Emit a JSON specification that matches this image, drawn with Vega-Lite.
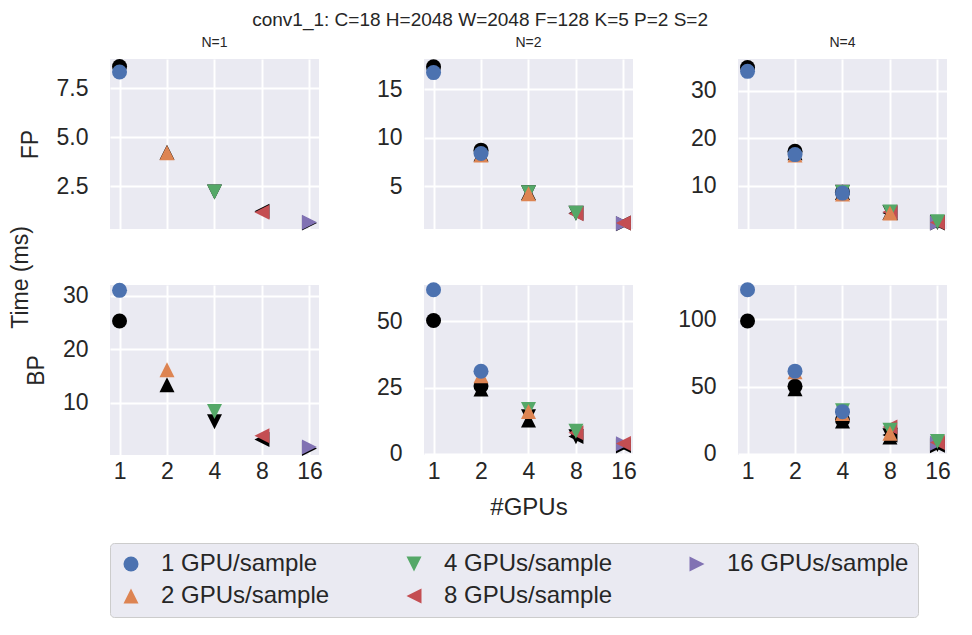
{
  "$schema": "https://vega.github.io/schema/vega-lite/v6.json",
  "padding": {"left": 10, "right": 10, "top": 10, "bottom": 5},
  "title": {"text": "conv1_1: C=18 H=2048 W=2048 F=128 K=5 P=2 S=2", "fontSize": 19, "anchor": "middle", "offset": 6},
  "data": {"values": [
    {"pass":"FP","N":1,"gpus":16,"cfg":"16 GPUs/sample","measured":0.66,"predicted":0.62},
    {"pass":"FP","N":1,"gpus":8,"cfg":"8 GPUs/sample","measured":1.17,"predicted":1.22},
    {"pass":"FP","N":1,"gpus":4,"cfg":"4 GPUs/sample","measured":2.2,"predicted":2.2},
    {"pass":"FP","N":1,"gpus":2,"cfg":"2 GPUs/sample","measured":4.2,"predicted":4.22},
    {"pass":"FP","N":1,"gpus":1,"cfg":"1 GPU/sample","measured":8.32,"predicted":8.6},
    {"pass":"FP","N":2,"gpus":16,"cfg":"16 GPUs/sample","measured":1.15,"predicted":1.1},
    {"pass":"FP","N":2,"gpus":8,"cfg":"8 GPUs/sample","measured":2.15,"predicted":2.2},
    {"pass":"FP","N":2,"gpus":16,"cfg":"8 GPUs/sample","measured":1.2,"predicted":1.2},
    {"pass":"FP","N":2,"gpus":4,"cfg":"4 GPUs/sample","measured":4.3,"predicted":4.3},
    {"pass":"FP","N":2,"gpus":8,"cfg":"4 GPUs/sample","measured":2.2,"predicted":2.2},
    {"pass":"FP","N":2,"gpus":2,"cfg":"2 GPUs/sample","measured":8.2,"predicted":8.3},
    {"pass":"FP","N":2,"gpus":4,"cfg":"2 GPUs/sample","measured":4.2,"predicted":4.3},
    {"pass":"FP","N":2,"gpus":1,"cfg":"1 GPU/sample","measured":16.7,"predicted":17.3},
    {"pass":"FP","N":2,"gpus":2,"cfg":"1 GPU/sample","measured":8.35,"predicted":8.7},
    {"pass":"FP","N":4,"gpus":16,"cfg":"16 GPUs/sample","measured":2.2,"predicted":2.2},
    {"pass":"FP","N":4,"gpus":8,"cfg":"8 GPUs/sample","measured":4.5,"predicted":4.3},
    {"pass":"FP","N":4,"gpus":16,"cfg":"8 GPUs/sample","measured":2.3,"predicted":2.2},
    {"pass":"FP","N":4,"gpus":4,"cfg":"4 GPUs/sample","measured":8.6,"predicted":8.7},
    {"pass":"FP","N":4,"gpus":8,"cfg":"4 GPUs/sample","measured":4.5,"predicted":4.4},
    {"pass":"FP","N":4,"gpus":16,"cfg":"4 GPUs/sample","measured":2.5,"predicted":2.3},
    {"pass":"FP","N":4,"gpus":2,"cfg":"2 GPUs/sample","measured":16.5,"predicted":17.0},
    {"pass":"FP","N":4,"gpus":4,"cfg":"2 GPUs/sample","measured":8.3,"predicted":8.6},
    {"pass":"FP","N":4,"gpus":8,"cfg":"2 GPUs/sample","measured":4.3,"predicted":4.4},
    {"pass":"FP","N":4,"gpus":1,"cfg":"1 GPU/sample","measured":34.1,"predicted":34.9},
    {"pass":"FP","N":4,"gpus":2,"cfg":"1 GPU/sample","measured":16.6,"predicted":17.3},
    {"pass":"FP","N":4,"gpus":4,"cfg":"1 GPU/sample","measured":8.5,"predicted":8.7},
    {"pass":"BP","N":1,"gpus":16,"cfg":"16 GPUs/sample","measured":1.8,"predicted":1.5},
    {"pass":"BP","N":1,"gpus":8,"cfg":"8 GPUs/sample","measured":3.9,"predicted":3.2},
    {"pass":"BP","N":1,"gpus":4,"cfg":"4 GPUs/sample","measured":8.4,"predicted":6.5},
    {"pass":"BP","N":1,"gpus":2,"cfg":"2 GPUs/sample","measured":16.2,"predicted":13.4},
    {"pass":"BP","N":1,"gpus":1,"cfg":"1 GPU/sample","measured":31.0,"predicted":25.3},
    {"pass":"BP","N":2,"gpus":16,"cfg":"16 GPUs/sample","measured":3.8,"predicted":3.0},
    {"pass":"BP","N":2,"gpus":8,"cfg":"8 GPUs/sample","measured":8.0,"predicted":6.6},
    {"pass":"BP","N":2,"gpus":16,"cfg":"8 GPUs/sample","measured":3.9,"predicted":3.2},
    {"pass":"BP","N":2,"gpus":4,"cfg":"4 GPUs/sample","measured":16.8,"predicted":14.0},
    {"pass":"BP","N":2,"gpus":8,"cfg":"4 GPUs/sample","measured":8.6,"predicted":6.5},
    {"pass":"BP","N":2,"gpus":2,"cfg":"2 GPUs/sample","measured":29.5,"predicted":24.5},
    {"pass":"BP","N":2,"gpus":4,"cfg":"2 GPUs/sample","measured":16.0,"predicted":12.8},
    {"pass":"BP","N":2,"gpus":1,"cfg":"1 GPU/sample","measured":61.9,"predicted":50.3},
    {"pass":"BP","N":2,"gpus":2,"cfg":"1 GPU/sample","measured":31.2,"predicted":25.6},
    {"pass":"BP","N":4,"gpus":16,"cfg":"16 GPUs/sample","measured":8.0,"predicted":6.0},
    {"pass":"BP","N":4,"gpus":8,"cfg":"8 GPUs/sample","measured":20.0,"predicted":14.0},
    {"pass":"BP","N":4,"gpus":16,"cfg":"8 GPUs/sample","measured":8.5,"predicted":6.5},
    {"pass":"BP","N":4,"gpus":4,"cfg":"4 GPUs/sample","measured":32.0,"predicted":26.0},
    {"pass":"BP","N":4,"gpus":8,"cfg":"4 GPUs/sample","measured":17.5,"predicted":13.5},
    {"pass":"BP","N":4,"gpus":16,"cfg":"4 GPUs/sample","measured":9.3,"predicted":7.0},
    {"pass":"BP","N":4,"gpus":2,"cfg":"2 GPUs/sample","measured":61.0,"predicted":48.5},
    {"pass":"BP","N":4,"gpus":4,"cfg":"2 GPUs/sample","measured":30.0,"predicted":24.5},
    {"pass":"BP","N":4,"gpus":8,"cfg":"2 GPUs/sample","measured":15.4,"predicted":12.5},
    {"pass":"BP","N":4,"gpus":1,"cfg":"1 GPU/sample","measured":122.0,"predicted":98.8},
    {"pass":"BP","N":4,"gpus":2,"cfg":"1 GPU/sample","measured":61.5,"predicted":50.2},
    {"pass":"BP","N":4,"gpus":4,"cfg":"1 GPU/sample","measured":31.4,"predicted":25.2}
  ]},
  "vconcat": [
    {
      "title": {"text": "Time (ms)", "orient": "left", "fontSize": 23, "anchor": "middle", "offset": -14},
      "spacing": 50,
      "vconcat": [
        {
          "bounds": "flush",
          "spacing": 105,
          "hconcat": [
            {
              "width": 209, "height": 170,
              "title": {"text": "N=1", "fontSize": 14, "offset": 9},
              "transform": [{"filter": "datum.pass === 'FP' && datum.N === 1"}],
              "layer": [
                {"mark": {"type": "point", "filled": true, "opacity": 1, "size": 225, "color": "#000000"},
                 "encoding": {
                   "x": {"field": "gpus", "type": "quantitative", "scale": {"type": "log", "base": 2, "domain": [0.87, 18.4], "nice": false}, "axis": {"values": [1, 2, 4, 8, 16], "labels": false, "title": null}},
                   "y": {"field": "predicted", "type": "quantitative", "scale": {"domain": [0.31, 8.98], "nice": false, "zero": false}, "axis": {"values": [2.5, 5, 7.5], "format": ".1f", "title": "FP"}},
                   "shape": {"field": "cfg", "type": "nominal", "scale": {"domain": ["1 GPU/sample", "4 GPUs/sample", "16 GPUs/sample", "2 GPUs/sample", "8 GPUs/sample"], "range": ["circle", "M0,1L1,-1L-1,-1Z", "M1,0L-1,-1L-1,1Z", "M0,-1L1,1L-1,1Z", "M-1,0L1,-1L1,1Z"]}}}},
                {"mark": {"type": "point", "filled": true, "opacity": 1, "size": 225},
                 "encoding": {
                   "x": {"field": "gpus", "type": "quantitative"},
                   "y": {"field": "measured", "type": "quantitative"},
                   "shape": {"field": "cfg", "type": "nominal"},
                   "color": {"field": "cfg", "type": "nominal", "scale": {"domain": ["1 GPU/sample", "4 GPUs/sample", "16 GPUs/sample", "2 GPUs/sample", "8 GPUs/sample"], "range": ["#4c72b0", "#55a868", "#8172b3", "#dd8452", "#c44e52"]}}}}
              ]
            },
            {
              "width": 209, "height": 170,
              "title": {"text": "N=2", "fontSize": 14, "offset": 9},
              "transform": [{"filter": "datum.pass === 'FP' && datum.N === 2"}],
              "layer": [
                {"mark": {"type": "point", "filled": true, "opacity": 1, "size": 225, "color": "#000000"},
                 "encoding": {
                   "x": {"field": "gpus", "type": "quantitative", "scale": {"type": "log", "base": 2, "domain": [0.87, 18.4], "nice": false}, "axis": {"values": [1, 2, 4, 8, 16], "labels": false, "title": null}},
                   "y": {"field": "predicted", "type": "quantitative", "scale": {"domain": [0.57, 18.1], "nice": false, "zero": false}, "axis": {"values": [5, 10, 15], "format": "d", "title": null}},
                   "shape": {"field": "cfg", "type": "nominal"}}},
                {"mark": {"type": "point", "filled": true, "opacity": 1, "size": 225},
                 "encoding": {
                   "x": {"field": "gpus", "type": "quantitative"},
                   "y": {"field": "measured", "type": "quantitative"},
                   "shape": {"field": "cfg", "type": "nominal"},
                   "color": {"field": "cfg", "type": "nominal"}}}
              ]
            },
            {
              "width": 209, "height": 170,
              "title": {"text": "N=4", "fontSize": 14, "offset": 9},
              "transform": [{"filter": "datum.pass === 'FP' && datum.N === 4"}],
              "layer": [
                {"mark": {"type": "point", "filled": true, "opacity": 1, "size": 225, "color": "#000000"},
                 "encoding": {
                   "x": {"field": "gpus", "type": "quantitative", "scale": {"type": "log", "base": 2, "domain": [0.87, 18.4], "nice": false}, "axis": {"values": [1, 2, 4, 8, 16], "labels": false, "title": null}},
                   "y": {"field": "predicted", "type": "quantitative", "scale": {"domain": [0.95, 36.7], "nice": false, "zero": false}, "axis": {"values": [10, 20, 30], "format": "d", "title": null}},
                   "shape": {"field": "cfg", "type": "nominal"}}},
                {"mark": {"type": "point", "filled": true, "opacity": 1, "size": 225},
                 "encoding": {
                   "x": {"field": "gpus", "type": "quantitative"},
                   "y": {"field": "measured", "type": "quantitative"},
                   "shape": {"field": "cfg", "type": "nominal"},
                   "color": {"field": "cfg", "type": "nominal"}}}
              ]
            }
          ]
        },
        {
          "bounds": "flush",
          "spacing": 105,
          "hconcat": [
            {
              "width": 209, "height": 170,
              "transform": [{"filter": "datum.pass === 'BP' && datum.N === 1"}],
              "layer": [
                {"mark": {"type": "point", "filled": true, "opacity": 1, "size": 225, "color": "#000000"},
                 "encoding": {
                   "x": {"field": "gpus", "type": "quantitative", "scale": {"type": "log", "base": 2, "domain": [0.87, 18.4], "nice": false}, "axis": {"values": [1, 2, 4, 8, 16], "format": "d", "title": null}},
                   "y": {"field": "predicted", "type": "quantitative", "scale": {"domain": [0.3, 32.0], "nice": false, "zero": false}, "axis": {"values": [10, 20, 30], "format": "d", "title": "BP"}},
                   "shape": {"field": "cfg", "type": "nominal"}}},
                {"mark": {"type": "point", "filled": true, "opacity": 1, "size": 225},
                 "encoding": {
                   "x": {"field": "gpus", "type": "quantitative"},
                   "y": {"field": "measured", "type": "quantitative"},
                   "shape": {"field": "cfg", "type": "nominal"},
                   "color": {"field": "cfg", "type": "nominal"}}}
              ]
            },
            {
              "width": 209, "height": 170,
              "transform": [{"filter": "datum.pass === 'BP' && datum.N === 2"}],
              "layer": [
                {"mark": {"type": "point", "filled": true, "opacity": 1, "size": 225, "color": "#000000"},
                 "encoding": {
                   "x": {"field": "gpus", "type": "quantitative", "scale": {"type": "log", "base": 2, "domain": [0.87, 18.4], "nice": false}, "axis": {"values": [1, 2, 4, 8, 16], "format": "d", "title": "#GPUs", "titlePadding": 12}},
                   "y": {"field": "predicted", "type": "quantitative", "scale": {"domain": [-0.4, 63.7], "nice": false, "zero": false}, "axis": {"values": [0, 25, 50], "format": "d", "title": null}},
                   "shape": {"field": "cfg", "type": "nominal"}}},
                {"mark": {"type": "point", "filled": true, "opacity": 1, "size": 225},
                 "encoding": {
                   "x": {"field": "gpus", "type": "quantitative"},
                   "y": {"field": "measured", "type": "quantitative"},
                   "shape": {"field": "cfg", "type": "nominal"},
                   "color": {"field": "cfg", "type": "nominal"}}}
              ]
            },
            {
              "width": 209, "height": 170,
              "transform": [{"filter": "datum.pass === 'BP' && datum.N === 4"}],
              "layer": [
                {"mark": {"type": "point", "filled": true, "opacity": 1, "size": 225, "color": "#000000"},
                 "encoding": {
                   "x": {"field": "gpus", "type": "quantitative", "scale": {"type": "log", "base": 2, "domain": [0.87, 18.4], "nice": false}, "axis": {"values": [1, 2, 4, 8, 16], "format": "d", "title": null}},
                   "y": {"field": "predicted", "type": "quantitative", "scale": {"domain": [-0.8, 125.5], "nice": false, "zero": false}, "axis": {"values": [0, 50, 100], "format": "d", "title": null}},
                   "shape": {"field": "cfg", "type": "nominal"}}},
                {"mark": {"type": "point", "filled": true, "opacity": 1, "size": 225},
                 "encoding": {
                   "x": {"field": "gpus", "type": "quantitative"},
                   "y": {"field": "measured", "type": "quantitative"},
                   "shape": {"field": "cfg", "type": "nominal"},
                   "color": {"field": "cfg", "type": "nominal"}}}
              ]
            }
          ]
        }
      ]
    }
  ],
  "config": {
    "font": "Liberation Sans",
    "background": "#ffffff",
    "view": {"fill": "#eaeaf2", "stroke": null},
    "axis": {"domain": false, "ticks": false, "grid": true, "gridColor": "#ffffff", "gridWidth": 2, "labelFontSize": 23, "labelColor": "#262626", "titleFontSize": 24, "titleFontWeight": "normal", "titleColor": "#262626"},
    "axisX": {"labelPadding": 5},
    "axisY": {"labelPadding": 22, "titlePadding": 14, "titleFontSize": 23},
    "title": {"fontWeight": "normal", "color": "#262626"},
    "legend": {"title": null, "orient": "bottom", "direction": "horizontal", "columns": 3, "symbolSize": 225, "labelFontSize": 24, "labelColor": "#262626", "fillColor": "#eaeaf2", "strokeColor": "#cccccc", "padding": 9, "cornerRadius": 4, "columnPadding": 72, "rowPadding": 8, "labelOffset": 18, "offset": 24, "labelLimit": 400}
  }
}
